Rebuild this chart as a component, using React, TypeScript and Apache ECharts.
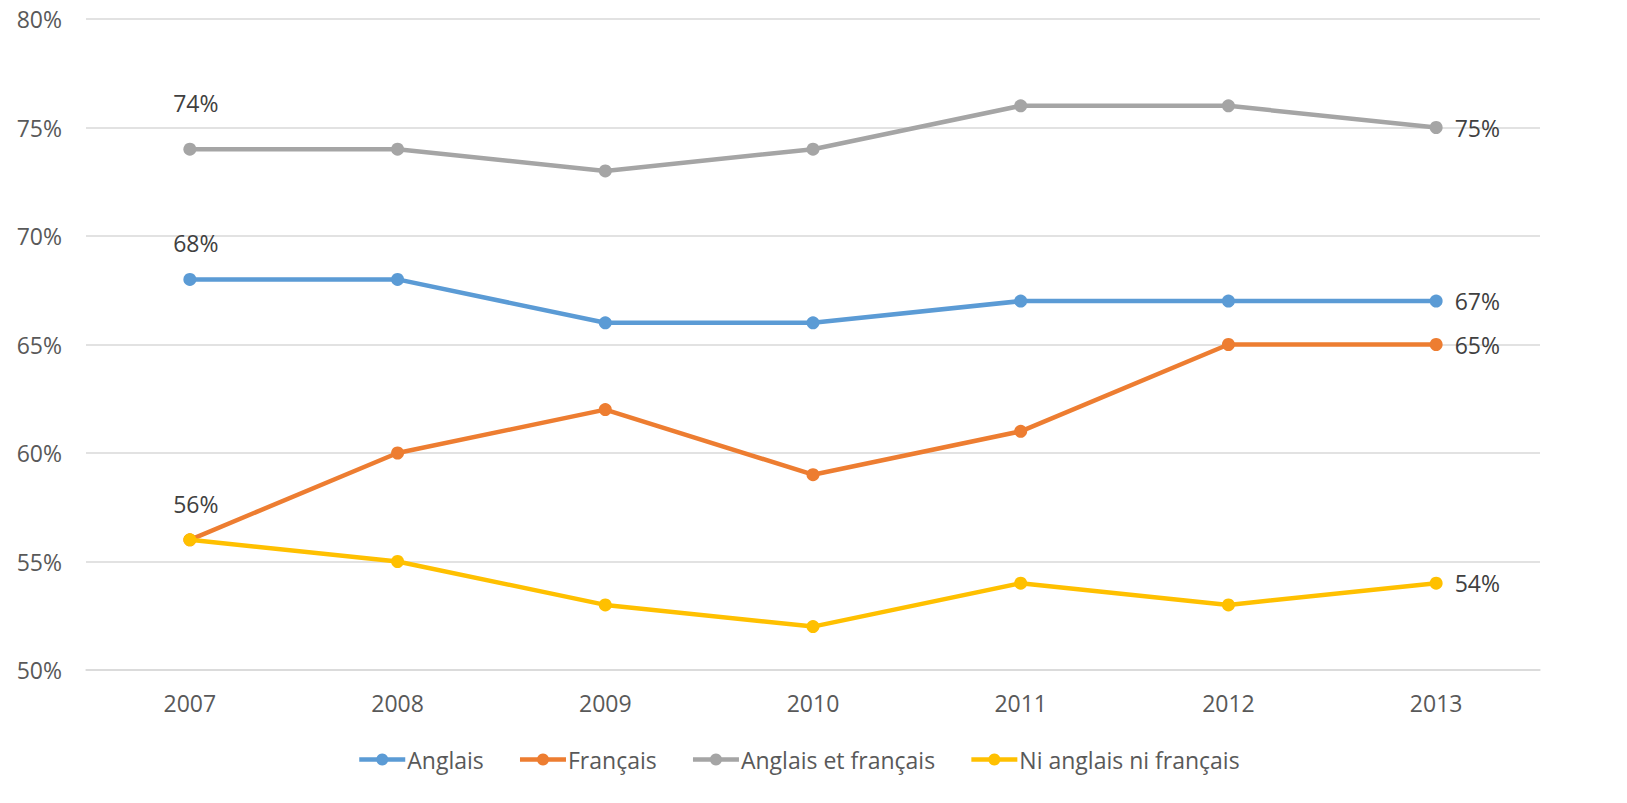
import React, { useEffect, useRef } from "react";
import * as echarts from "echarts";

const years = ["2007", "2008", "2009", "2010", "2011", "2012", "2013"];
const anglais = [68, 68, 66, 66, 67, 67, 67];
const francais = [56, 60, 62, 59, 61, 65, 65];
const anglaisEtFrancais = [74, 74, 73, 74, 76, 76, 75];
const niNi = [56, 55, 53, 52, 54, 53, 54];

const seriesNames = ["Anglais", "Français", "Anglais et français", "Ni anglais ni français"];
const colors = ["#5b9bd5", "#ed7d31", "#a5a5a5", "#ffc000"];

const FONT = "'Open Sans', 'Noto Sans', sans-serif";

export default function App() {
  const ref = useRef<HTMLDivElement>(null);
  useEffect(() => {
    if (!ref.current) return;
    const chart = echarts.init(ref.current, undefined, { renderer: "svg" });
    const datasets = [anglais, francais, anglaisEtFrancais, niNi];
    const showFirst = [true, true, true, false];
    const series = datasets.map((d, i) => ({
      name: seriesNames[i],
      type: "line",
      data: d.map((v, j) => {
        const last = j === d.length - 1;
        const first = j === 0;
        const item: any = { value: v };
        if (last) {
          item.label = { show: true, position: "right", distance: 12 };
        } else if (first && showFirst[i]) {
          item.label = { show: true, position: "top", distance: i === 2 ? 28 : 18, offset: [6, 0] };
        }
        return item;
      }),
      symbol: "circle",
      symbolSize: 13,
      lineStyle: { width: 4.5, color: colors[i] },
      itemStyle: { color: colors[i] },
      label: {
        show: false,
        formatter: (p: any) => p.value + "%",
        color: "#404040",
        fontSize: 23,
        fontFamily: FONT,
      },
      z: 2 + i,
    }));
    chart.setOption({
      animation: false,
      color: colors,
      grid: { left: 86, right: 87, top: 19, bottom: 133, containLabel: false },
      xAxis: {
        type: "category",
        data: years,
        boundaryGap: true,
        axisLine: { show: true, lineStyle: { color: "#d9d9d9", width: 1.5 } },
        axisTick: { show: false },
        axisLabel: { color: "#595959", fontSize: 23, fontFamily: FONT, margin: 21 },
      },
      yAxis: {
        type: "value",
        min: 50,
        max: 80,
        interval: 5,
        axisLine: { show: false },
        axisTick: { show: false },
        splitLine: { lineStyle: { color: "#d9d9d9", width: 1.5 } },
        axisLabel: {
          color: "#595959",
          fontSize: 23,
          fontFamily: FONT,
          formatter: (v: number) => v + "%",
          margin: 24,
        },
      },
      legend: {
        bottom: 27,
        left: 352,
        itemWidth: 46,
        itemHeight: 15,
        itemGap: 34,
        lineStyle: { width: 4.5 },
        textStyle: { color: "#595959", fontSize: 23, fontFamily: FONT, padding: [0, 0, 0, -3] },
        data: seriesNames,
      },
      series,
    });
    return () => chart.dispose();
  }, []);
  return (
    <div
      ref={ref}
      style={{ position: "fixed", left: 0, top: 0, width: 1627, height: 803, background: "#fff" }}
    />
  );
}
